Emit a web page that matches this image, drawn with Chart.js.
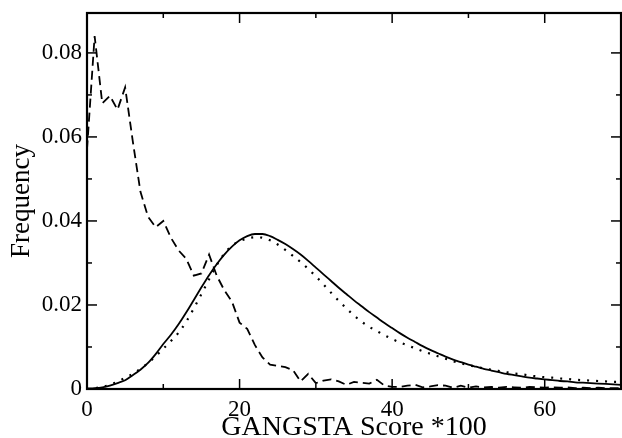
<!DOCTYPE html>
<html>
<head>
<meta charset="utf-8">
<script src="https://cdn.jsdelivr.net/npm/chart.js@4/dist/chart.umd.min.js"></script>
<style>
html,body{margin:0;padding:0;background:#fff;}
#wrap{width:622px;height:438px;position:relative;}
</style>
</head>
<body>
<div id="wrap"><canvas id="c" width="622" height="438"></canvas></div>
<script>
// GANGSTA score *100 (x values, shared by all series)
const scores = [0,1,2,3,4,5,6,7,8,9,10,11,12,13,14,15,16,17,18,19,20,21,22,23,24,25,26,27,28,29,30,31,32,33,34,35,36,37,38,39,40,41,42,43,44,45,46,47,48,49,50,51,52,53,54,55,56,57,58,59,60,61,62,63,64,65,66,67,68,69,70];

// dashed series
const dashedFreq = [0.057,0.084,0.068,0.0698,0.0665,0.0718,0.059,0.047,0.041,0.0385,0.040,0.036,0.033,0.031,0.027,0.0275,0.032,0.027,0.0235,0.0208,0.0158,0.0143,0.0105,0.0075,0.0058,0.0055,0.0052,0.0045,0.0018,0.0036,0.0014,0.0020,0.0023,0.0018,0.0010,0.0017,0.0015,0.0013,0.0022,0.0008,0.0005,0.0005,0.0008,0.0010,0.0004,0.0006,0.0009,0.0008,0.0003,0.0008,0.0003,0.0006,0.0004,0.0005,0.0003,0.0005,0.0004,0.0003,0.0005,0.0004,0.0003,0.0004,0.0003,0.0004,0.0002,0.0003,0.0002,0.0003,0.0002,0.0002,0.0002];

// solid series
const solidFreq = [0.0001,0.0002,0.0004,0.0008,0.0014,0.0021,0.0033,0.0046,0.0062,0.0083,0.0107,0.0129,0.0154,0.0182,0.0212,0.0242,0.0271,0.0297,0.0320,0.0339,0.0354,0.0364,0.0369,0.0369,0.0364,0.0355,0.0345,0.0333,0.0320,0.0305,0.0289,0.0273,0.0257,0.0241,0.0226,0.0211,0.0197,0.0183,0.0170,0.0157,0.0145,0.0133,0.0122,0.0112,0.0102,0.0093,0.0085,0.0077,0.0070,0.0064,0.0058,0.0053,0.0048,0.0044,0.0040,0.0036,0.0033,0.0030,0.0027,0.0025,0.0023,0.0021,0.0019,0.0018,0.0016,0.0015,0.0014,0.0013,0.0012,0.0011,0.0010];

// dotted series
const dottedFreq = [0.0000,0.0002,0.0005,0.0010,0.0017,0.0027,0.0036,0.0048,0.0062,0.0078,0.0096,0.0114,0.0134,0.0160,0.0192,0.0226,0.0261,0.0295,0.0322,0.0341,0.0352,0.0358,0.0361,0.0360,0.0354,0.0344,0.0331,0.0317,0.0302,0.0286,0.0268,0.0249,0.0229,0.0210,0.0192,0.0175,0.0160,0.0148,0.0138,0.0128,0.0119,0.0111,0.0104,0.0097,0.0090,0.0084,0.0078,0.0072,0.0066,0.0061,0.0057,0.0053,0.0049,0.0046,0.0043,0.0040,0.0037,0.0035,0.0032,0.0030,0.0028,0.0027,0.0025,0.0024,0.0022,0.0021,0.0020,0.0019,0.0018,0.0017,0.0017];

// tick values
const xMajorTicks = [0,20,40,60];
const xMinorTicks = [10,30,50];
const yMajorTicks = [0,0.02,0.04,0.06,0.08];
const yMinorTicks = [0.01,0.03,0.05,0.07];

const xTitle = 'GANGSTA Score *100';
const yTitle = 'Frequency';

const toPts = ys => scores.map((x,i) => ({x, y: ys[i]}));
const FONT = "'Liberation Serif', 'Times New Roman', serif";

const frameTicks = {
  id: 'frameTicks',
  afterDraw(chart) {
    const {ctx, chartArea: a, scales: {x, y}} = chart;
    ctx.save();
    ctx.strokeStyle = '#000';
    ctx.lineWidth = 1.5;
    const tick = (x1,y1,x2,y2) => { ctx.beginPath(); ctx.moveTo(x1,y1); ctx.lineTo(x2,y2); ctx.stroke(); };
    xMajorTicks.forEach(v => { const p = x.getPixelForValue(v); if (p > a.left+1 && p < a.right-1) { tick(p,a.bottom,p,a.bottom-10); tick(p,a.top,p,a.top+10);} });
    xMinorTicks.forEach(v => { const p = x.getPixelForValue(v); tick(p,a.bottom,p,a.bottom-5); tick(p,a.top,p,a.top+5); });
    yMajorTicks.forEach(v => { const p = y.getPixelForValue(v); if (p < a.bottom-1 && p > a.top+1) { tick(a.left,p,a.left+10,p); tick(a.right,p,a.right-10,p);} });
    yMinorTicks.forEach(v => { const p = y.getPixelForValue(v); tick(a.left,p,a.left+5,p); tick(a.right,p,a.right-5,p); });
    ctx.lineWidth = 2.2;
    ctx.strokeRect(a.left, a.top, a.right - a.left, a.bottom - a.top);
    ctx.restore();
  }
};

new Chart(document.getElementById('c'), {
  type: 'line',
  data: {
    datasets: [
      { data: toPts(dashedFreq), borderColor: '#000', borderWidth: 1.8, borderDash: [9,5], pointRadius: 0, tension: 0, fill: false },
      { data: toPts(solidFreq), borderColor: '#000', borderWidth: 1.8, pointRadius: 0, cubicInterpolationMode: 'monotone', fill: false },
      { data: toPts(dottedFreq), borderColor: '#000', borderWidth: 2.2, borderDash: [2,7], borderCapStyle: 'butt', pointRadius: 0, cubicInterpolationMode: 'monotone', fill: false }
    ]
  },
  options: {
    responsive: false,
    animation: false,
    devicePixelRatio: 1,
    layout: { padding: { top: 13, right: 1, left: 0, bottom: 0 } },
    plugins: { legend: { display: false }, tooltip: { enabled: false } },
    scales: {
      x: {
        type: 'linear', min: 0, max: 70,
        grid: { display: false, drawTicks: false },
        border: { display: false },
        afterFit(s) { s.height = 49; s.paddingLeft = 0; s.paddingRight = 0; },
        afterBuildTicks(s) { s.ticks = xMajorTicks.map(v => ({value: v})); },
        ticks: { color: '#000', padding: 7, maxRotation: 0, autoSkip: false, font: { family: FONT, size: 23 }, callback: v => String(v) },
        title: { display: true, text: xTitle, color: '#000', font: { family: FONT, size: 28, lineHeight: 0.75 }, padding: { top: 0, bottom: 0 } }
      },
      y: {
        min: 0, max: 0.0895,
        grid: { display: false, drawTicks: false },
        border: { display: false },
        afterFit(s) { s.width = 87; s.paddingTop = 0; s.paddingBottom = 0; },
        afterBuildTicks(s) { s.ticks = yMajorTicks.map(v => ({value: v})); },
        ticks: { color: '#000', padding: 5, autoSkip: false, font: { family: FONT, size: 23 }, callback: v => (v === 0 ? '0' : v.toFixed(2)) },
        title: { display: true, text: yTitle, color: '#000', font: { family: FONT, size: 27, lineHeight: 1.2 }, padding: { top: 6, bottom: 0 } }
      }
    }
  },
  plugins: [frameTicks]
});
</script>
</body>
</html>
